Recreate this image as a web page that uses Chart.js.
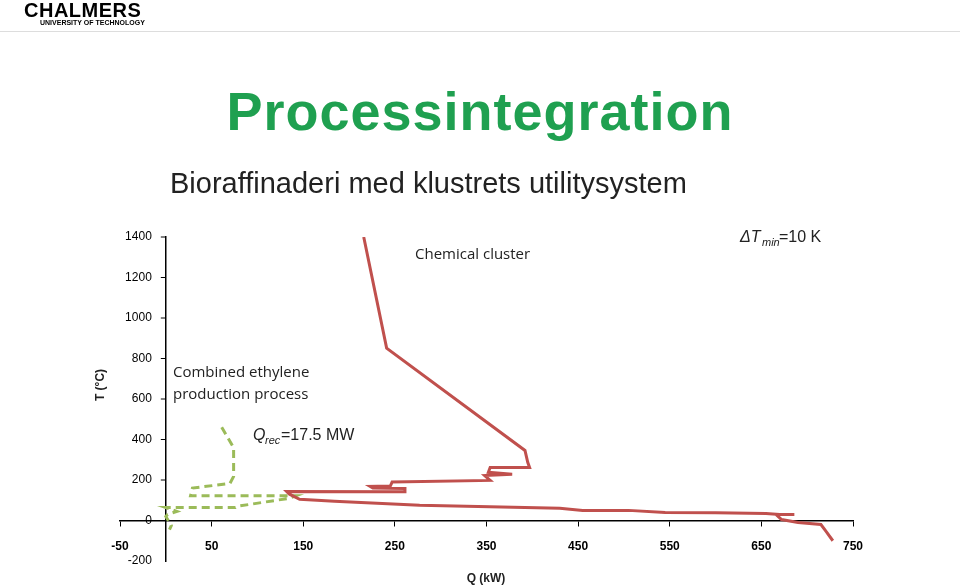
<!DOCTYPE html><html><head><meta charset="utf-8">
<script src="https://cdn.jsdelivr.net/npm/chart.js@4"></script>
<style>
body{margin:0;width:960px;height:586px;background:#fff;font-family:"Liberation Sans",Arial,sans-serif;position:relative;overflow:hidden}
.abs{position:absolute;white-space:nowrap}
</style></head><body>
<div style="position:absolute;left:0;top:0;width:960px;height:586px"><canvas id="c" width="960" height="586"></canvas></div>
<div class="abs" style="left:24px;top:-1px;font-size:20px;font-weight:bold;letter-spacing:0.5px">CHALMERS</div>
<div class="abs" style="left:40px;top:19px;font-size:7px;font-weight:bold">UNIVERSITY OF TECHNOLOGY</div>
<div class="abs" style="left:0;top:31px;width:960px;border-top:1px solid #ddd"></div>
<div class="abs" style="left:0;width:960px;top:80px;text-align:center;font-size:54px;font-weight:bold;color:#1fa050;letter-spacing:1px">Processintegration</div>
<div class="abs" style="left:170px;top:167px;font-size:29px;color:#222">Bioraffinaderi med klustrets utilitysystem</div>
<script>
const xTicks=[-50,50,150,250,350,450,550,650,750];
const yTicks=[-200,0,200,400,600,800,1000,1200,1400];
const chemicalQ=[216,241,392,395,397,354,352,378,348,354,247,245,223,226,261,261,132,135,146,184,277,430,455,505,545,600,655,670,686,666,672,690,715,720,728];
const chemicalT=[1400,851,346,287,262,262,238,228,222,198,190,170,168,160,158,142,143,130,105,95,75,60,50,50,40,38,35,30,30,30,5,-10,-20,-50,-100];
const ethyleneQ=[61,74,74,70,29,27,142,135,78,76,0,12,2,0,6,4];
const ethyleneT=[460,360,218,183,160,122,122,110,70,64,64,45,30,20,-25,-45];
const pts=(a,b)=>a.map((v,i)=>({x:v,y:b[i]}));
const notes={id:'notes',afterDraw(c){const g=c.ctx,ys=c.scales.y,xs=c.scales.x;g.save();
g.fillStyle='#000';g.font='12px "Liberation Sans"';g.textAlign='right';g.textBaseline='middle';
const x0=xs.getPixelForValue(0);
yTicks.forEach(v=>{const p=ys.getPixelForValue(v);g.fillText(String(v),x0-14,p);
 if(v>=0){g.beginPath();g.moveTo(x0-5,p);g.lineTo(x0,p);g.strokeStyle='#000';g.lineWidth=1;g.stroke();}});
g.fillStyle='#222';g.textAlign='left';g.textBaseline='alphabetic';
g.font='15px "Open Sans"';g.fillText('Chemical cluster',415,259);
g.fillText('Combined ethylene',173,377);g.fillText('production process',173,399);
g.font='italic 16px "Liberation Sans"';g.fillText('ΔT',740,242);g.font='italic 11px "Liberation Sans"';g.fillText('min',762,246);g.font='16px "Liberation Sans"';g.fillText('=10 K',779,242);
g.font='italic 16px "Liberation Sans"';g.fillText('Q',253,440);g.font='italic 11px "Liberation Sans"';g.fillText('rec',265,444);g.font='16px "Liberation Sans"';g.fillText('=17.5 MW',281,440);
g.font='bold 12px "Liberation Sans"';g.textAlign='center';g.fillText('Q (kW)',486,582);
g.translate(104,385);g.rotate(-Math.PI/2);g.fillText('T (°C)',0,0);g.restore();}};
new Chart(document.getElementById('c'),{type:'scatter',data:{datasets:[
{data:pts(chemicalQ,chemicalT),showLine:true,borderColor:'#c0504d',borderWidth:3,pointRadius:0,tension:0},
{data:pts(ethyleneQ,ethyleneT),showLine:true,borderColor:'#9bbb59',borderWidth:3,borderDash:[8,5],pointRadius:0,tension:0}]},
options:{responsive:false,animation:false,devicePixelRatio:1,layout:{padding:{left:120,right:107,top:237,bottom:25}},
plugins:{legend:{display:false},tooltip:{enabled:false}},
scales:{x:{type:'linear',min:-50,max:750,position:{y:0},afterBuildTicks:a=>{a.ticks=xTicks.map(v=>({value:v}))},
grid:{display:true,drawOnChartArea:false,tickLength:5,color:'#000'},border:{color:'#000',width:1.5},
ticks:{color:'#000',font:{size:12,weight:'bold',family:'Liberation Sans'},padding:14}},
y:{type:'linear',min:-200,max:1400,position:{x:0},afterBuildTicks:a=>{a.ticks=yTicks.map(v=>({value:v}))},
grid:{display:false},border:{color:'#000',width:1.5},
ticks:{display:false}}}},plugins:[notes]});
</script>
</body></html>
